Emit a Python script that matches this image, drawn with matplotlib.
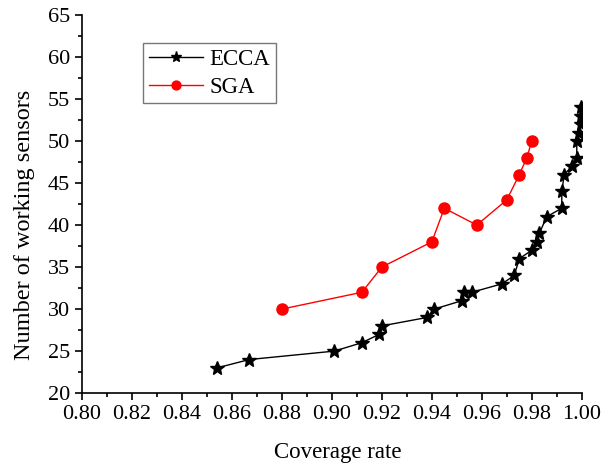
import numpy as np
import matplotlib.pyplot as plt
from matplotlib.ticker import MultipleLocator

# ECCA curve
ecca_cov = [0.854, 0.867, 0.901, 0.912, 0.919, 0.920, 0.938, 0.941, 0.952, 0.953,
            0.956, 0.968, 0.973, 0.975, 0.980, 0.982, 0.983, 0.986, 0.992, 0.992,
            0.993, 0.996, 0.998, 0.998, 0.999, 0.9995, 0.9995, 0.9995]
ecca_num = [23, 24, 25, 26, 27, 28, 29, 30, 31, 32,
            32, 33, 34, 36, 37, 38, 39, 41, 42, 44,
            46, 47, 48, 50, 51, 52, 53, 54]

# SGA curve
sga_cov = [0.880, 0.912, 0.920, 0.940, 0.945, 0.958, 0.970, 0.975, 0.978, 0.980]
sga_num = [30, 32, 35, 38, 42, 40, 43, 46, 48, 50]

plt.rcParams['font.family'] = ['Liberation Serif', 'DejaVu Serif']

fig = plt.figure(figsize=(6.01, 4.68), dpi=100)
ax = fig.add_axes([0.1364, 0.160, 0.8316, 0.808])

ax.plot(ecca_cov, ecca_num, color='black', lw=1, marker='*', ms=10,
        label='ECCA')
ax.plot(sga_cov, sga_num, color='red', lw=1, marker='o', ms=8,
        label='SGA')

ax.set_xlim(0.80, 1.00)
ax.set_ylim(20, 65)
ax.xaxis.set_major_locator(MultipleLocator(0.02))
ax.xaxis.set_minor_locator(MultipleLocator(0.01))
ax.yaxis.set_major_locator(MultipleLocator(5))
ax.yaxis.set_minor_locator(MultipleLocator(2.5))
ax.tick_params(which='major', length=5, width=1.2, labelsize=16, direction='out')
ax.tick_params(which='minor', length=3, width=1.2, direction='out')
ax.xaxis.set_major_formatter(plt.FuncFormatter(lambda v, p: f'{v:.2f}'))

for s in ['top', 'right']:
    ax.spines[s].set_visible(False)
for s in ['left', 'bottom']:
    ax.spines[s].set_linewidth(1.2)

ax.set_xlabel('Coverage rate', fontsize=16.5)
ax.set_ylabel('Number of working sensors', fontsize=17.5)
ax.xaxis.set_label_coords(0.512, -0.13)
ax.yaxis.set_label_coords(-0.094, 0.444)

leg = ax.legend(loc='upper left', bbox_to_anchor=(143 / 601, 1 - 43 / 468),
                bbox_transform=fig.transFigure, borderaxespad=0,
                fontsize=16.5, frameon=True, fancybox=False,
                edgecolor='#555555', handlelength=2.35, handletextpad=0.3,
                borderpad=0.25, labelspacing=0.3, markerscale=0.8)
leg.get_frame().set_linewidth(1.0)

fig.savefig('out.png', dpi=100)
